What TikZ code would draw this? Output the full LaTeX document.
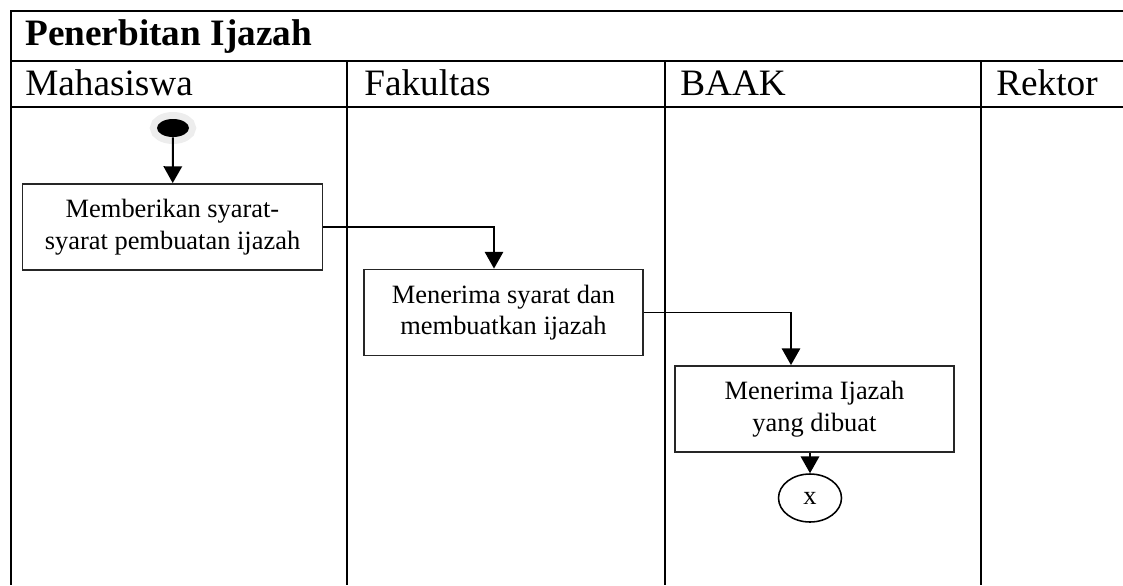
\documentclass[tikz,border=0pt]{standalone}
\usepackage{fontspec}
\setmainfont{Liberation Serif}
\usetikzlibrary{shapes.geometric,arrows.meta,positioning,calc}
\tikzset{
  sl_line/.style={line width=1.6pt,draw=black},
  sl_head/.style={anchor=base west,inner sep=0pt,
    font=\fontsize{26.5}{30}\selectfont},
  sl_title/.style={anchor=base west,inner sep=0pt,
    font=\fontsize{26.5}{30}\selectfont\bfseries},
  sl_act/.style={rectangle,draw=black!85,line width=1.3pt,
    align=center,minimum height=21.5mm,inner sep=2pt,
    font=\fontsize{18.8}{22.5}\selectfont},
  sl_start/.style={ellipse,fill=black,
    minimum width=8mm,minimum height=4.5mm,inner sep=0pt,
    preaction={draw=black!7,line width=3.5mm}},
  sl_end/.style={ellipse,draw=black,line width=1.1pt,
    minimum width=15.75mm,minimum height=12mm,inner sep=0pt,
    font=\fontsize{18.8}{22}\selectfont},
  arr/.style={-{Triangle[width=4.6mm,length=4.2mm]},line width=1.4pt,draw=black},
}
\begin{document}
\begin{tikzpicture}[x=0.25mm,y=-0.25mm]
  \useasboundingbox (0,0) rectangle (1123,585);
  % swimlane frame
  \draw[sl_line] (1123,11) -- (11,11) -- (11,585);
  \draw[sl_line] (11,61) -- (1123,61);
  \draw[sl_line] (11,107) -- (1123,107);
  \foreach \lx in {347,665,981}
    \draw[sl_line] (\lx,61) -- (\lx,585);
  \node (judul) [sl_title] at (25,45) {Penerbitan Ijazah};
  \node (mhs) [sl_head] at (25,95) {Mahasiswa};
  \node (fak) [sl_head] at (364,95) {Fakultas};
  \node (baak) [sl_head] at (680,95) {BAAK};
  \node (rek) [sl_head] at (996,95) {Rektor};

  % activities
  \node (mulai) [sl_start] at (173,128) {};
  \node (syarat) [sl_act,minimum width=75mm] at (172.5,227)
    {Memberikan syarat-\\syarat pembuatan ijazah};
  \node (terima) [sl_act,minimum width=69.75mm] at (503.5,312.5)
    {Menerima syarat dan\\membuatkan ijazah};
  \node (ijazah) [sl_act,minimum width=69.75mm] at (814.5,409)
    {Menerima Ijazah\\yang dibuat};
  \node (selesai) [sl_end] at (810,498) {x};

  \draw[arr] (mulai) -- (syarat);
  \coordinate (in_fak) at ($(terima.north)+(-9.5,0)$);
  \coordinate (in_baak) at ($(ijazah.north)+(-23.5,0)$);
  \draw[arr] (syarat.east) -| (in_fak);
  \draw[arr] (terima.east) -| (in_baak);
  \draw[arr] (selesai.north |- ijazah.south) -- (selesai);
\end{tikzpicture}
\end{document}
